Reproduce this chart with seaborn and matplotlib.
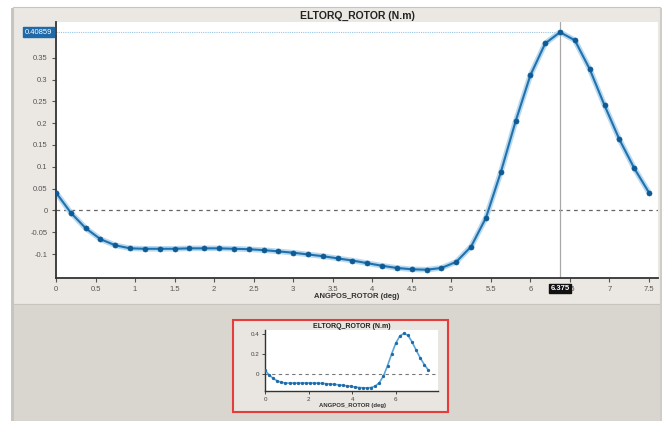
import matplotlib
matplotlib.use("Agg")
import matplotlib.pyplot as plt
from matplotlib.patches import Rectangle
import matplotlib.transforms as mtransforms
import seaborn as sns
import pandas as pd

# Rotor angle (deg) and electromagnetic torque (N.m)
angpos_deg = [0.0, 0.1875, 0.375, 0.5625, 0.75, 0.9375, 1.125, 1.3125, 1.5, 1.6875,
              1.875, 2.0625, 2.25, 2.4375, 2.625, 2.8125, 3.0, 3.1875, 3.375, 3.5625,
              3.75, 3.9375, 4.125, 4.3125, 4.5, 4.6875, 4.875, 5.0625, 5.25, 5.4375,
              5.625, 5.8125, 6.0, 6.1875, 6.375, 6.5625, 6.75, 6.9375, 7.125, 7.3125, 7.5]
eltorq_nm = [0.0408, -0.0054, -0.0408, -0.066, -0.080, -0.087, -0.088, -0.088, -0.088, -0.087,
             -0.087, -0.087, -0.088, -0.089, -0.091, -0.094, -0.097, -0.101, -0.105, -0.110,
             -0.115, -0.121, -0.127, -0.132, -0.135, -0.136, -0.132, -0.118, -0.083, -0.017,
             0.087, 0.204, 0.310, 0.383, 0.40859, 0.390, 0.324, 0.241, 0.163, 0.097, 0.0408]

main_xticks = [0, 0.5, 1, 1.5, 2, 2.5, 3, 3.5, 4, 4.5, 5, 5.5, 6, 6.5, 7, 7.5]
main_yticks = [-0.1, -0.05, 0, 0.05, 0.1, 0.15, 0.2, 0.25, 0.3, 0.35, 0.4]
thumb_xticks = [0, 2, 4, 6]
thumb_yticks = [0, 0.2, 0.4]

cursor_x = 6.375
cursor_y = 0.40859

title_text = "ELTORQ_ROTOR (N.m)"
xlabel_text = "ANGPOS_ROTOR (deg)"

df = pd.DataFrame({"angpos": angpos_deg, "eltorq": eltorq_nm})

sns.set_theme(style="ticks")
plt.rcParams["font.family"] = ["Liberation Sans", "DejaVu Sans"]

W, H = 668, 421
fig = plt.figure(figsize=(W / 100, H / 100), dpi=100)
fig.patch.set_facecolor("white")


def px_rect(x0, y0, x1, y1, **kw):
    """Rectangle given in pixel coordinates measured from the top-left."""
    r = Rectangle((x0 / W, 1 - y1 / H), (x1 - x0) / W, (y1 - y0) / H,
                  transform=fig.transFigure, **kw)
    fig.add_artist(r)
    return r


def px_axes(x0, y0, x1, y1):
    return fig.add_axes([x0 / W, 1 - y1 / H, (x1 - x0) / W, (y1 - y0) / H])


# window panels
px_rect(11, 8, 13, 421, facecolor="#c9c6c1", edgecolor="none", zorder=0)
px_rect(13, 7, 660, 304, facecolor="#ebe8e3", edgecolor="#c8c5c0", lw=0.8, zorder=0)
px_rect(13, 304, 660, 421, facecolor="#d9d6d0", edgecolor="#c8c5c0", lw=0.8, zorder=0)
px_rect(660, 8, 662, 421, facecolor="#d0cdc8", edgecolor="none", zorder=0)

# main chart
ax = px_axes(56, 22, 658, 278)
ax.set_facecolor("white")
ax.axhline(0, color="#666666", lw=0.9, ls=(0, (3, 3)), zorder=1)
ax.axvline(cursor_x, color="#a8a8a8", lw=0.9, zorder=1)
ax.plot([0, cursor_x], [cursor_y, cursor_y], color="#9cc3e0", lw=0.8, ls=(0, (1, 1)), zorder=1)

# soft glow under the curve, then the curve with its sample points
sns.lineplot(data=df, x="angpos", y="eltorq", ax=ax, color="#b8d8ef", lw=4.0, zorder=2)
sns.lineplot(data=df, x="angpos", y="eltorq", ax=ax, color="#1f72ad", lw=1.5,
             marker="o", markersize=3.6, markerfacecolor="#0d5a94",
             markeredgecolor="#0d5a94", markeredgewidth=0.5, zorder=3)

ax.set_xlim(0, 7.614)
ax.set_ylim(-0.155, 0.432)
ax.set_xticks(main_xticks)
ax.set_xticklabels([f"{v:g}" for v in main_xticks])
ax.set_yticks(main_yticks)
ax.set_yticklabels([f"{v:g}" for v in main_yticks])
ax.tick_params(axis="both", labelsize=5.5, labelcolor="#555555", color="#555555",
               length=3, width=0.8, pad=3)
for s in ("top", "right"):
    ax.spines[s].set_visible(False)
for s in ("left", "bottom"):
    ax.spines[s].set_color("#333333")
    ax.spines[s].set_linewidth(1.3)
ax.set_xlabel("")
ax.set_ylabel("")

fig.text(357 / W, 1 - 16 / H, title_text, ha="center", va="center",
         fontsize=7.5, fontweight="bold", color="#222222")
fig.text(357 / W, 1 - 296 / H, xlabel_text, ha="center", va="center",
         fontsize=5.5, fontweight="bold", color="#333333")

# cursor readouts
ytr = mtransforms.blended_transform_factory(ax.transAxes, ax.transData)
ax.text(-0.006, cursor_y, f"{cursor_y:.5f}", transform=ytr, ha="right", va="center",
        fontsize=5.5, color="white", zorder=10, clip_on=False,
        bbox=dict(boxstyle="square,pad=0.2", facecolor="#1f6aa8", edgecolor="#1f6aa8"))
xtr = mtransforms.blended_transform_factory(ax.transData, ax.transAxes)
ax.text(cursor_x, -0.04, f"{cursor_x:g}", transform=xtr, ha="center", va="center",
        fontsize=5.5, color="white", fontweight="bold", zorder=10, clip_on=False,
        bbox=dict(boxstyle="square,pad=0.15", facecolor="#111111", edgecolor="#111111"))

# overview thumbnail
px_rect(233, 320, 448, 412, facecolor="#e9e6e1", edgecolor="#e63c3c", lw=1.5, zorder=0)
axt = px_axes(265, 330, 438, 391)
axt.set_facecolor("white")
axt.axhline(0, color="#777777", lw=0.8, ls=(0, (3, 3)), zorder=1)
sns.lineplot(data=df, x="angpos", y="eltorq", ax=axt, color="#5aa5d8", lw=1.2,
             marker="o", markersize=1.6, markerfacecolor="#1f6aa8",
             markeredgecolor="#1f6aa8", zorder=3)
axt.set_xlim(0, 7.94)
axt.set_ylim(-0.167, 0.443)
axt.set_xticks(thumb_xticks)
axt.set_xticklabels([f"{v:g}" for v in thumb_xticks])
axt.set_yticks(thumb_yticks)
axt.set_yticklabels([f"{v:g}" for v in thumb_yticks])
axt.tick_params(axis="both", labelsize=4.5, labelcolor="#444444", color="#444444",
                length=2, width=0.7, pad=2)
for s in ("top", "right"):
    axt.spines[s].set_visible(False)
for s in ("left", "bottom"):
    axt.spines[s].set_color("#333333")
    axt.spines[s].set_linewidth(1.0)
axt.set_xlabel("")
axt.set_ylabel("")
fig.text(352 / W, 1 - 326 / H, title_text, ha="center", va="center",
         fontsize=5, fontweight="bold", color="#222222")
fig.text(352 / W, 1 - 406 / H, xlabel_text, ha="center", va="center",
         fontsize=4.3, fontweight="bold", color="#333333")

fig.savefig("out.png", dpi=100)
